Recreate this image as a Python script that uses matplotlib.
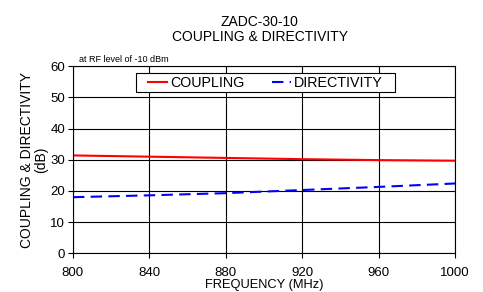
import matplotlib
matplotlib.use("Agg")
from matplotlib import pyplot as plt
from matplotlib.patches import Rectangle

plt.rcParams['font.family'] = ['Liberation Sans', 'DejaVu Sans']

freq = [800, 840, 880, 920, 960, 1000]
coupling = [31.4, 31.0, 30.6, 30.2, 29.9, 29.7]
directivity = [18.0, 18.6, 19.3, 20.3, 21.3, 22.4]

xticks = [800, 840, 880, 920, 960, 1000]
yticks = [0, 10, 20, 30, 40, 50, 60]

fig = plt.figure(figsize=(4.83, 2.92), dpi=100)
ax = fig.add_axes([0.151, 0.1325, 0.791, 0.6405])

ax.plot(freq, coupling, color='red', lw=1.5, label='COUPLING')
ax.plot(freq, directivity, color='blue', lw=1.5, dashes=(5.5, 3), label='DIRECTIVITY')

ax.set_xlim(800, 1000)
ax.set_ylim(0, 60)
ax.set_xticks(xticks)
ax.set_yticks(yticks)
ax.grid(True, color='black', lw=0.8)
ax.tick_params(direction='out', length=3.5, width=0.8, labelsize=9.5, pad=2)
ax.tick_params(axis='x', pad=6)
for s in ax.spines.values():
    s.set_linewidth(0.8)

ax.set_xlabel('FREQUENCY (MHz)', fontsize=9.3, labelpad=0.5)
ax.set_ylabel('COUPLING & DIRECTIVITY\n(dB)', fontsize=10, labelpad=2, linespacing=1.0)
ax.set_title('ZADC-30-10\nCOUPLING & DIRECTIVITY', fontsize=10, pad=18, linespacing=1.1, x=0.489)
ax.text(0.015, 1.01, 'at RF level of -10 dBm', transform=ax.transAxes, fontsize=6.5,
        ha='left', va='bottom')

leg = ax.legend(loc='upper center', ncol=2, fontsize=10.3, frameon=False,
                borderpad=0.15, handlelength=1.35, handletextpad=0.2,
                columnspacing=1.9, bbox_to_anchor=(0.503, 1.0))
leg.set_zorder(5)

# legend frame: wider side padding than matplotlib's borderpad gives
fig.canvas.draw()
bb = leg.get_window_extent().transformed(fig.transFigure.inverted())
padx = 10 / fig.bbox.width
frame = Rectangle((bb.x0 - padx, bb.y0), bb.width + 2 * padx, bb.height,
                  transform=fig.transFigure, facecolor='white', edgecolor='black',
                  lw=0.8, zorder=4)
ax.add_artist(frame)
frame.set_clip_on(False)

fig.savefig('out.png', dpi=100)
